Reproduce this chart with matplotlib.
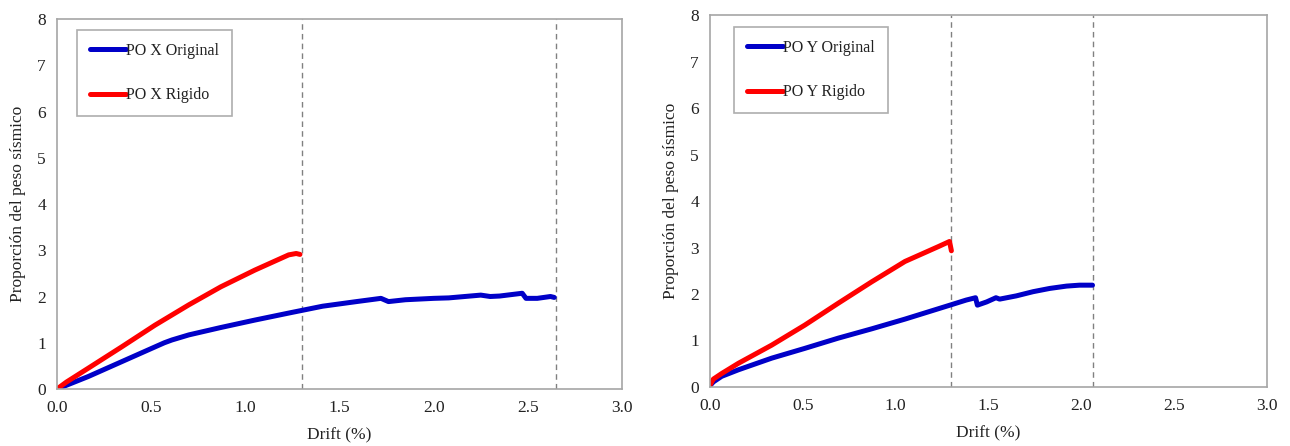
import matplotlib
matplotlib.use("Agg")
import matplotlib.pyplot as plt

# ---- data ----
x_label = "Drift (%)"
y_label = "Proporción del peso sísmico"
x_ticks = [0.0, 0.5, 1.0, 1.5, 2.0, 2.5, 3.0]
x_tick_labels = ["0.0", "0.5", "1.0", "1.5", "2.0", "2.5", "3.0"]
y_ticks = [0, 1, 2, 3, 4, 5, 6, 7, 8]

# Left panel (X direction)
px_orig_x = [0, 0.166, 0.343, 0.52, 0.57, 0.61, 0.70, 0.87, 1.05, 1.24, 1.41, 1.59,
             1.72, 1.76, 1.85, 2.0, 2.08, 2.25, 2.30, 2.35, 2.47, 2.49, 2.55, 2.62, 2.64]
px_orig_y = [0, 0.27, 0.59, 0.91, 1.0, 1.06, 1.17, 1.33, 1.49, 1.65, 1.79, 1.89,
             1.96, 1.89, 1.93, 1.96, 1.97, 2.03, 2.0, 2.01, 2.07, 1.96, 1.96, 2.0, 1.98]
px_rig_x = [0, 0.05, 0.166, 0.343, 0.52, 0.70, 0.87, 1.05, 1.23, 1.27, 1.29]
px_rig_y = [0, 0.15, 0.45, 0.91, 1.38, 1.82, 2.21, 2.57, 2.90, 2.93, 2.91]
x_limits_left = [1.3, 2.65]
legend_left = ["PO X Original", "PO X Rigido"]

# Right panel (Y direction)
py_orig_x = [0, 0.018, 0.063, 0.153, 0.332, 0.51, 0.69, 0.87, 1.05, 1.30, 1.38, 1.43,
             1.44, 1.49, 1.54, 1.56, 1.65, 1.74, 1.83, 1.92, 1.99, 2.06]
py_orig_y = [0.03, 0.11, 0.23, 0.37, 0.62, 0.83, 1.05, 1.25, 1.46, 1.77, 1.87, 1.92,
             1.76, 1.83, 1.92, 1.89, 1.96, 2.05, 2.12, 2.17, 2.19, 2.19]
py_rig_x = [0, 0.018, 0.063, 0.153, 0.332, 0.51, 0.69, 0.87, 1.05, 1.23, 1.29, 1.30]
py_rig_y = [0.04, 0.17, 0.29, 0.51, 0.90, 1.33, 1.80, 2.26, 2.70, 3.02, 3.13, 2.93]
x_limits_right = [1.3, 2.06]
legend_right = ["PO Y Original", "PO Y Rigido"]

BLUE = "#0000c8"
RED = "#ff0000"
SPINE = "#a6a6a6"
FS = 12.5
LFS = 11.5

plt.rcParams['font.family'] = ['Liberation Serif', 'DejaVu Serif']

fig = plt.figure(figsize=(12.9, 4.46), dpi=100)
ax1 = fig.add_axes([0.0442, 0.1278, 0.438, 0.8296])
ax2 = fig.add_axes([0.5504, 0.1323, 0.4318, 0.834])


def style(ax, ox, oy, rx, ry, lims, labels, lx, ly):
    ax.plot(ox, oy, color=BLUE, lw=3.6, solid_capstyle='round',
            solid_joinstyle='round', label=labels[0])
    ax.plot(rx, ry, color=RED, lw=3.6, solid_capstyle='round',
            solid_joinstyle='round', label=labels[1])
    for v in lims:
        ax.axvline(v, color="#808080", lw=1.0, ls=(0, (4, 3)), zorder=0)
    ax.set_xlim(0, 3.0)
    ax.set_ylim(0, 8)
    ax.set_xticks(x_ticks)
    ax.set_xticklabels(x_tick_labels)
    ax.set_yticks(y_ticks)
    ax.tick_params(length=0, labelsize=FS, colors="#222222", pad=8)
    for s in ax.spines.values():
        s.set_color(SPINE)
        s.set_linewidth(1.2)
    ax.set_xlabel(x_label, fontsize=FS, color="#222222", labelpad=8)
    ax.set_ylabel(y_label, fontsize=FS, color="#222222", labelpad=8)
    leg = ax.legend(loc='upper left', bbox_to_anchor=(lx, ly), borderaxespad=0,
                    fontsize=LFS, frameon=True, fancybox=False, edgecolor="#9a9a9a",
                    handlelength=2.3, handletextpad=0.0, labelspacing=1.78,
                    borderpad=0.8)
    leg.get_frame().set_linewidth(1.2)
    for t in leg.get_texts():
        t.set_color("#222222")


style(ax1, px_orig_x, px_orig_y, px_rig_x, px_rig_y, x_limits_left, legend_left, 0.035, 0.97)
style(ax2, py_orig_x, py_orig_y, py_rig_x, py_rig_y, x_limits_right, legend_right, 0.043, 0.968)

fig.savefig("out.png", dpi=100)
